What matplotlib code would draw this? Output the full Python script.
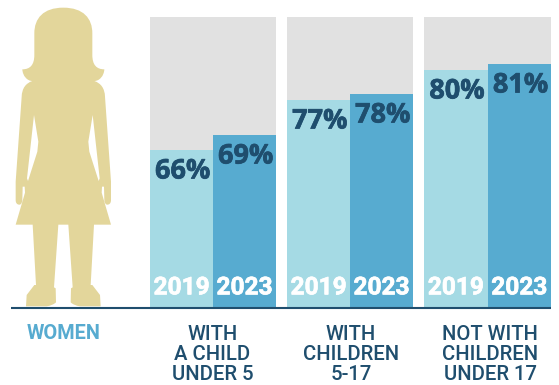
import matplotlib
matplotlib.use("Agg")
import matplotlib.pyplot as plt
import matplotlib.patheffects as pe
from matplotlib.path import Path
from matplotlib.patches import PathPatch, Polygon

years = ["2019", "2023"]
under_5 = [66, 69]
age_5_17 = [77, 78]
no_children = [80, 81]
groups = [under_5, age_5_17, no_children]
group_labels = ["WITH\nA CHILD\nUNDER 5", "WITH\nCHILDREN\n5-17", "NOT WITH\nCHILDREN\nUNDER 17"]
side_label = "WOMEN"

GREY = "#e1e1e1"
LIGHT = "#a5dae4"
BLUE = "#57abd0"
NAVY = "#1f4e6e"
TAN = "#e3d69b"

W, H = 559, 385
BASE = 308
TOP = 17
# left/right pixel edge of each panel and the value range each one shows
panel_x = [(150, 276), (287, 413), (424, 551)]
panel_ylim = [(34.4, 92.6), (42.33, 90.83), (40.33, 88.83)]
label_x = [212.5, 351, 490]

# right half of the figure outline, mirrored about CX
CX = 190
M, L, C = Path.MOVETO, Path.LINETO, Path.CURVE4
half = [
    (L, (190, 23)),
    (C, (250, 23)), (C, (277, 55)), (C, (277, 100)),
    (L, (277, 165)),
    (C, (277, 195)), (C, (290, 208)), (C, (313, 208)),
    (C, (312, 228)), (C, (298, 243)), (C, (283, 243)),
    (C, (303, 250)), (C, (314, 265)), (C, (315, 290)),
    (L, (333, 545)),
    (L, (333, 600)),
    (C, (333, 610)), (C, (328, 614)), (C, (322, 614)),
    (C, (316, 614)), (C, (314, 608)), (C, (313, 600)),
    (L, (312, 560)),
    (L, (306, 560)),
    (L, (305, 578)),
    (L, (333, 674)),
    (L, (282, 674)),
    (L, (272, 855)),
    (L, (277, 855)),
    (L, (300, 885)),
    (L, (302, 919)),
    (L, (240, 919)),
    (C, (228, 917)), (C, (218, 913)), (C, (212, 907)),
    (L, (213, 865)),
    (L, (218, 862)),
    (L, (205, 674)),
    (L, (190, 674)),
]
gap = [(278, 345), (265, 425), (268, 455), (296, 543), (299, 535)]


def figure_path():
    # second half is the first run backwards, with the control points kept in order
    codes = [M] + [c for c, _ in half[1:]]
    verts = [p for _, p in half]
    back_codes = []
    back_verts = []
    for i in range(len(half) - 1, 0, -1):
        back_codes.append(half[i][0])
        back_verts.append((2 * CX - verts[i - 1][0], verts[i - 1][1]))
    verts = verts + back_verts + [verts[0]]
    codes = codes + back_codes + [Path.CLOSEPOLY]
    return Path([(x / 3, y / 3) for x, y in verts], codes)


def heavier(color, lw):
    return [pe.withStroke(linewidth=lw, foreground=color)]


fig = plt.figure(figsize=(W / 100, H / 100), dpi=100)
fig.patch.set_facecolor("white")

# full-size overlay in pixel units for the figure, baseline and labels
bg = fig.add_axes([0, 0, 1, 1], zorder=3)
bg.set_xlim(0, W)
bg.set_ylim(H, 0)
bg.axis("off")
bg.patch.set_alpha(0)
bg.add_patch(PathPatch(figure_path(), facecolor=TAN, edgecolor="none"))
for sign in (1, -1):
    pts = [((CX + sign * (x - CX)) / 3, y / 3) for x, y in gap]
    bg.add_patch(Polygon(pts, closed=True, facecolor="white", edgecolor="none"))
bg.plot([11, 551], [308, 308], color=NAVY, lw=1.5, solid_capstyle="butt")

bg.text(64, 333.5, side_label, color=BLUE, family="Roboto", weight="bold",
        fontsize=14.3, ha="center", va="center")
for x, txt in zip(label_x, group_labels):
    bg.text(x, 354.5, txt, color=NAVY, family="Roboto", weight="medium", fontsize=14.6,
            ha="center", va="center", linespacing=1.08)

for vals, (x0, x1), ylim in zip(groups, panel_x, panel_ylim):
    ax = fig.add_axes([x0 / W, 1 - BASE / H, (x1 - x0) / W, (BASE - TOP) / H], zorder=2)
    ax.set_facecolor(GREY)
    ax.bar([0, 1], vals, width=1, color=[LIGHT, BLUE])
    ax.set_xlim(-0.5, 1.5)
    ax.set_ylim(*ylim)
    for s in ax.spines.values():
        s.set_visible(False)
    ax.set_xticks([])
    ax.set_yticks([])
    for i, v in enumerate(vals):
        ax.annotate(f"{v}%", (i, v), xytext=(1, -15.5), textcoords="offset points",
                    color=NAVY, family="Open Sans", weight="bold", fontsize=19.5,
                    ha="center", va="center", path_effects=heavier(NAVY, 0.5))
        ax.annotate(years[i], (i, ylim[0]), xytext=(0, 14.5), textcoords="offset points",
                    color="white", family="Roboto", weight="bold", fontsize=17.6,
                    ha="center", va="center", path_effects=heavier("white", 0.5))

fig.savefig("out.png", dpi=100)
